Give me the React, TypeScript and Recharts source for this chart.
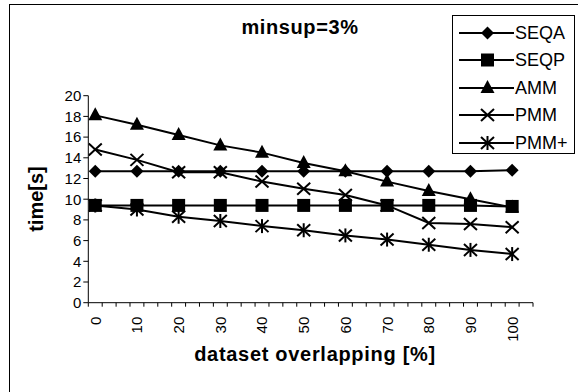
import { LineChart, Line, XAxis, YAxis } from 'recharts'

const overlap = [0, 10, 20, 30, 40, 50, 60, 70, 80, 90, 100]
const seqa = [12.7, 12.7, 12.7, 12.7, 12.7, 12.7, 12.7, 12.7, 12.7, 12.7, 12.8]
const seqp = [9.4, 9.4, 9.4, 9.4, 9.4, 9.4, 9.4, 9.4, 9.4, 9.4, 9.3]
const amm = [18.1, 17.2, 16.2, 15.2, 14.5, 13.5, 12.7, 11.7, 10.8, 10.0, 9.2]
const pmm = [14.8, 13.8, 12.6, 12.6, 11.7, 11.0, 10.4, 9.4, 7.7, 7.6, 7.3]
const pmmPlus = [9.4, 9.0, 8.3, 7.9, 7.4, 7.0, 6.5, 6.1, 5.6, 5.1, 4.7]
const yTicks = [0, 2, 4, 6, 8, 10, 12, 14, 16, 18, 20]

const FONT = '"Liberation Sans", Arial, sans-serif'

const data = overlap.map((o, i) => ({
  overlap: o,
  SEQA: seqa[i],
  SEQP: seqp[i],
  AMM: amm[i],
  PMM: pmm[i],
  'PMM+': pmmPlus[i],
}))

// excel category axis: 3 minor ticks per labelled category
const step = 10 / 3
const xDomain = [-step / 2, 105]
const minorTicks = Array.from({ length: 33 }, (_, k) => -step / 2 + k * step)
const allXTicks = [...minorTicks, ...overlap].sort((a, b) => a - b)

type Shape = 'diamond' | 'square' | 'triangle' | 'x' | 'star'

const Marker = ({ cx, cy, shape }: { cx: number; cy: number; shape: Shape }) => {
  if (cx == null || cy == null) return null
  switch (shape) {
    case 'diamond':
      return <polygon points={`${cx},${cy - 6.5} ${cx + 6.5},${cy} ${cx},${cy + 6.5} ${cx - 6.5},${cy}`} fill="#000" />
    case 'square':
      return <rect x={cx - 6.5} y={cy - 6.5} width={13} height={13} fill="#000" />
    case 'triangle':
      return <polygon points={`${cx},${cy - 8} ${cx + 7},${cy + 5} ${cx - 7},${cy + 5}`} fill="#000" />
    case 'x':
      return (
        <g stroke="#000" strokeWidth={2}>
          <line x1={cx - 6.5} y1={cy - 6} x2={cx + 6.5} y2={cy + 6} />
          <line x1={cx - 6.5} y1={cy + 6} x2={cx + 6.5} y2={cy - 6} />
        </g>
      )
    case 'star':
      return (
        <g stroke="#000" strokeWidth={2}>
          <line x1={cx - 6.5} y1={cy - 6} x2={cx + 6.5} y2={cy + 6} />
          <line x1={cx - 6.5} y1={cy + 6} x2={cx + 6.5} y2={cy - 6} />
          <line x1={cx} y1={cy - 7} x2={cx} y2={cy + 7} />
        </g>
      )
  }
  return null
}

const series: { key: string; shape: Shape }[] = [
  { key: 'SEQA', shape: 'diamond' },
  { key: 'SEQP', shape: 'square' },
  { key: 'AMM', shape: 'triangle' },
  { key: 'PMM', shape: 'x' },
  { key: 'PMM+', shape: 'star' },
]

// labels sit on category centres, tick marks on category boundaries
const XTick = (props: any) => {
  const { x, y, payload } = props
  const v = payload.value
  if (overlap.includes(v)) {
    const ty = y + 14
    return (
      <text
        x={x}
        y={ty}
        transform={`rotate(-90 ${x} ${ty})`}
        textAnchor="end"
        dominantBaseline="central"
        fontFamily={FONT}
        fontSize={15}
        fill="#000"
      >
        {v}
      </text>
    )
  }
  return <line x1={x} y1={y} x2={x} y2={y + 4} stroke="#000" strokeWidth={1} />
}

const LegendBox = () => (
  <div
    style={{
      position: 'absolute',
      left: 452,
      top: 15,
      border: '1px solid #000',
      background: '#fff',
      width: 121,
      height: 134,
      paddingTop: 3,
    }}
  >
    {series.map((s) => (
      <div key={s.key} style={{ display: 'flex', alignItems: 'center', height: 27.5 }}>
        <svg width={62} height={20} style={{ display: 'block' }}>
          <line x1={6} y1={10} x2={61} y2={10} stroke="#000" strokeWidth={2} />
          <Marker cx={34.5} cy={10} shape={s.shape} />
        </svg>
        <span style={{ fontFamily: FONT, fontSize: 18, color: '#000', lineHeight: '20px' }}>{s.key}</span>
      </div>
    ))}
  </div>
)

export default function App() {
  return (
    <div style={{ position: 'fixed', left: 0, top: 0, width: 581, height: 392, background: '#fff', overflow: 'hidden' }}>
      <div
        style={{
          position: 'absolute',
          left: 9,
          top: 4,
          width: 568,
          height: 400,
          borderTop: '1px solid #000',
          borderLeft: '1px solid #000',
        }}
      />
      <div
        style={{
          position: 'absolute',
          left: 0,
          width: 600,
          top: 16,
          textAlign: 'center',
          fontFamily: FONT,
          fontWeight: 'bold',
          fontSize: 20,
          letterSpacing: 0.6,
          color: '#000',
        }}
      >
        minsup=3%
      </div>
      <div
        style={{
          position: 'absolute',
          left: 0,
          width: 630,
          top: 343,
          textAlign: 'center',
          fontFamily: FONT,
          fontWeight: 'bold',
          fontSize: 20,
          letterSpacing: 0.7,
          color: '#000',
        }}
      >
        dataset overlapping [%]
      </div>
      <div
        style={{
          position: 'absolute',
          left: 36,
          top: 199,
          transform: 'translate(-50%, -50%) rotate(-90deg)',
          fontFamily: FONT,
          fontWeight: 'bold',
          fontSize: 20,
          color: '#000',
          whiteSpace: 'nowrap',
        }}
      >
        time[s]
      </div>
      <LineChart
        width={581}
        height={392}
        data={data}
        margin={{ top: 95.7, right: 48, bottom: 29.3, left: 28.3 }}
        style={{ position: 'absolute', left: 0, top: 0 }}
      >
        <XAxis
          dataKey="overlap"
          type="number"
          domain={xDomain}
          ticks={allXTicks}
          interval={0}
          height={60}
          axisLine={{ stroke: '#000', strokeWidth: 1 }}
          tickLine={false}
          tickSize={0}
          tickMargin={0}
          tick={<XTick />}
          allowDataOverflow
        />
        <YAxis
          domain={[0, 20]}
          ticks={yTicks}
          interval={0}
          width={60}
          axisLine={{ stroke: '#000', strokeWidth: 1 }}
          tickLine={{ stroke: '#000', strokeWidth: 1 }}
          tickSize={5}
          tick={{ fill: '#000', fontSize: 15, fontFamily: FONT }}
        />
        {series.map((s) => (
          <Line
            key={s.key}
            dataKey={s.key}
            stroke="#000"
            strokeWidth={2}
            isAnimationActive={false}
            activeDot={false}
            dot={(p: any) => <Marker key={`${s.key}-${p.index}`} cx={p.cx} cy={p.cy} shape={s.shape} />}
          />
        ))}
      </LineChart>
      <LegendBox />
    </div>
  )
}
